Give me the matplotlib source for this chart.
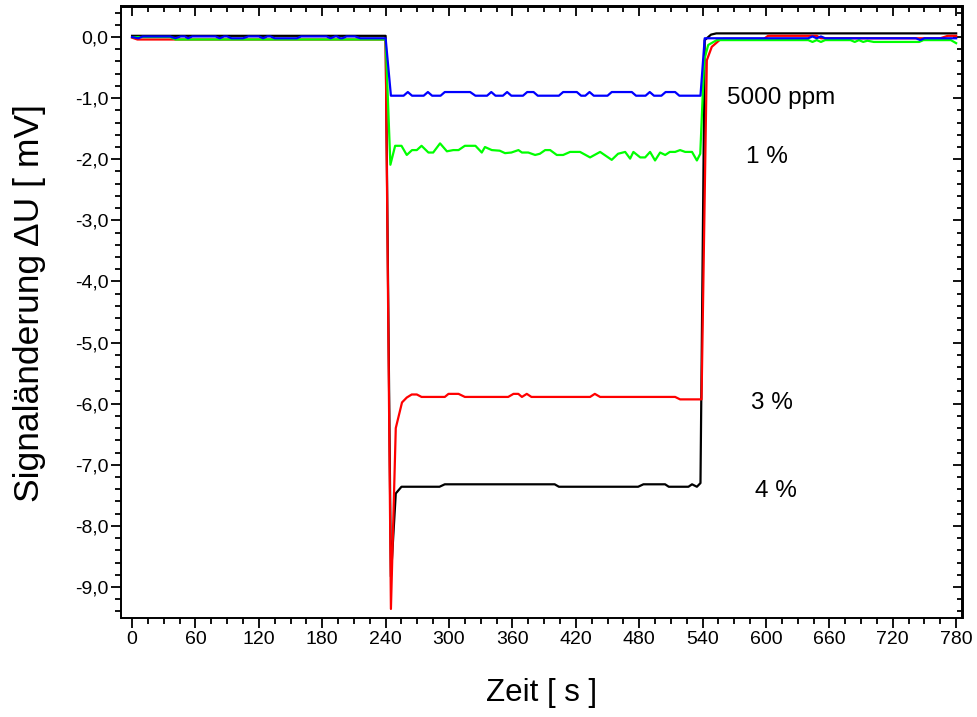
import matplotlib
matplotlib.use("Agg")
import matplotlib.pyplot as plt
from matplotlib.ticker import MultipleLocator, FuncFormatter

plt.rcParams['font.family'] = ['Liberation Sans', 'DejaVu Sans']

# ---- data ----
t_black = [0, 240, 245, 249.6, 255, 291, 296, 400, 404, 479, 484, 504.5, 508,
           526.6, 530, 534.6, 538, 542, 548, 553, 780]
v_black = [0.02, 0.02, -8.83, -7.47, -7.36, -7.36, -7.32, -7.32, -7.36, -7.36,
           -7.32, -7.32, -7.36, -7.36, -7.32, -7.36, -7.30, -0.05, 0.04, 0.06, 0.06]

t_red = [0, 5, 240, 245, 249.6, 255.5, 260, 264.7, 269.5, 274, 296, 299.5, 309,
         315, 356, 361, 365.6, 369, 373.6, 378, 433.5, 438, 443, 514, 518.7,
         539, 544, 548.7, 556, 560, 598, 602, 648, 652, 765, 772, 780]
v_red = [-0.01, -0.04, -0.04, -9.36, -6.40, -5.98, -5.90, -5.85, -5.85, -5.89,
         -5.89, -5.84, -5.84, -5.89, -5.89, -5.84, -5.84, -5.89, -5.84, -5.89,
         -5.89, -5.84, -5.89, -5.89, -5.93, -5.93, -0.38, -0.16, -0.05, -0.03,
         -0.03, 0.02, 0.02, -0.02, -0.02, 0.02, 0.02]

t_green = [0, 5, 36, 41, 240, 244.5, 249, 255, 260, 265, 269.5, 274, 280.5, 285,
           291.5, 298, 304, 309, 315, 325, 331, 334, 340.5, 348, 353, 359, 365.7,
           369, 375, 381.5, 386, 391, 395.7, 402, 408, 414.6, 424, 433.5, 443,
           454, 460, 466.7, 471.4, 474.5, 481, 485.6, 490.3, 495, 499.8, 504.6,
           509, 514, 518.7, 523.5, 530, 534.6, 537.8, 541.5, 545.3, 553.4, 640,
           644, 648, 652, 656, 680, 684, 688, 692, 696, 702, 745, 749, 775, 780]
v_green = [0.0, 0.0, 0.0, -0.04, -0.04, -2.09, -1.78, -1.78, -1.93, -1.85, -1.85,
           -1.78, -1.89, -1.89, -1.74, -1.87, -1.85, -1.85, -1.78, -1.78, -1.89,
           -1.80, -1.85, -1.86, -1.90, -1.89, -1.85, -1.89, -1.89, -1.93, -1.91,
           -1.85, -1.85, -1.93, -1.93, -1.88, -1.88, -1.97, -1.88, -2.01, -1.91,
           -1.88, -1.99, -1.88, -1.97, -1.97, -1.88, -2.02, -1.89, -1.93, -1.88,
           -1.88, -1.85, -1.88, -1.88, -2.02, -1.91, -0.38, -0.13, -0.05, -0.05,
           -0.08, -0.05, -0.08, -0.05, -0.05, -0.08, -0.05, -0.08, -0.06, -0.08,
           -0.08, -0.05, -0.05, -0.10]

t_blue = [0, 6, 10, 36, 41, 46, 50, 53, 57, 79, 83, 87, 90, 94, 105, 110, 120,
          124, 128, 131, 135, 156, 160, 184, 188, 192, 194, 197, 199, 203, 211,
          216, 240, 245, 257, 261, 265, 276, 280, 284, 292, 296, 320, 325, 336,
          340, 344, 351, 355, 359, 370, 374, 380, 384, 404, 408, 421, 425, 429,
          433, 437, 450, 454, 473, 477, 486, 490, 494, 501, 505, 514, 518, 538,
          542, 640, 644, 648, 652, 656, 742, 746, 750, 780]
v_blue = [0.0, -0.02, 0.01, 0.01, -0.02, 0.01, 0.01, -0.02, 0.01, 0.01, -0.02,
          0.01, 0.01, -0.02, -0.02, 0.01, 0.01, -0.02, 0.01, 0.01, -0.02, -0.02,
          0.01, 0.01, -0.02, 0.01, 0.01, -0.02, -0.02, 0.01, 0.01, -0.02, -0.02,
          -0.96, -0.96, -0.90, -0.96, -0.96, -0.90, -0.96, -0.96, -0.90, -0.90,
          -0.96, -0.96, -0.90, -0.96, -0.96, -0.90, -0.96, -0.96, -0.90, -0.90,
          -0.96, -0.96, -0.90, -0.90, -0.96, -0.96, -0.90, -0.96, -0.96, -0.90,
          -0.90, -0.96, -0.96, -0.90, -0.96, -0.96, -0.90, -0.90, -0.96, -0.96,
          -0.02, -0.02, 0.01, -0.02, 0.01, -0.02, -0.02, -0.05, -0.02, -0.02]

labels = ["5000 ppm", "1 %", "3 %", "4 %"]
label_t = [614, 601, 606, 609]
label_v = [-1.0, -1.96, -5.99, -7.43]

# ---- figure ----
W, H = 978, 717
fig = plt.figure(figsize=(W / 100, H / 100), dpi=100)
x0, x1, y0, y1 = 121.5, 962.5, 6.5, 617.5
ax = fig.add_axes([x0 / W, 1 - y1 / H, (x1 - x0) / W, (y1 - y0) / H])

lw = 1.6
ax.plot(t_black, v_black, color='black', lw=lw)
ax.plot(t_red, v_red, color='#ff0000', lw=lw)
ax.plot(t_green, v_green, color='#00ff00', lw=lw)
ax.plot(t_blue, v_blue, color='#0000ff', lw=lw)

for s, tt, vv in zip(labels, label_t, label_v):
    ax.text(tt, vv, s, ha='center', va='center', fontsize=17.5)

ax.set_xlim(-10, 786)
ax.set_ylim(-9.5, 0.5)
ax.xaxis.set_major_locator(MultipleLocator(60))
ax.xaxis.set_minor_locator(MultipleLocator(15))
ax.yaxis.set_major_locator(MultipleLocator(1))
ax.yaxis.set_minor_locator(MultipleLocator(0.2))
ax.yaxis.set_major_formatter(FuncFormatter(lambda v, p: f"{v:.1f}".replace('.', ',').replace('-0,0', '0,0')))
ax.xaxis.set_major_formatter(FuncFormatter(lambda v, p: f"{v:.0f}"))

for sp in ax.spines.values():
    sp.set_linewidth(1.4)

ax.tick_params(which='both', direction='out', bottom=True, left=True, top=False, right=False,
               labelsize=14, width=1.3)
ax.tick_params(which='major', length=7.5, pad=2)
ax.tick_params(which='minor', length=4)

# inward ticks on top and right
axt = ax.secondary_xaxis('top')
axt.xaxis.set_major_locator(MultipleLocator(60))
axt.xaxis.set_minor_locator(MultipleLocator(15))
axt.tick_params(which='both', direction='in', labeltop=False, width=1.3)
axt.tick_params(which='major', length=7.5)
axt.tick_params(which='minor', length=4)
axt.spines['top'].set_linewidth(1.4)
axr = ax.secondary_yaxis('right')
axr.yaxis.set_major_locator(MultipleLocator(1))
axr.yaxis.set_minor_locator(MultipleLocator(0.2))
axr.tick_params(which='both', direction='in', labelright=False, width=1.3)
axr.tick_params(which='major', length=7.5)
axr.tick_params(which='minor', length=4)
axr.spines['right'].set_linewidth(1.4)

ax.set_xlabel("Zeit [ s ]", fontsize=22.5, va='center')
ax.xaxis.set_label_coords(0.5, (y1 - 693) / (y1 - y0))
ax.set_ylabel("Signaländerung ΔU [ mV]", fontsize=25.5, va='center')
ax.yaxis.set_label_coords((30 - x0) / (x1 - x0), (y1 - 303.5) / (y1 - y0))

fig.savefig("out.png", dpi=100)
